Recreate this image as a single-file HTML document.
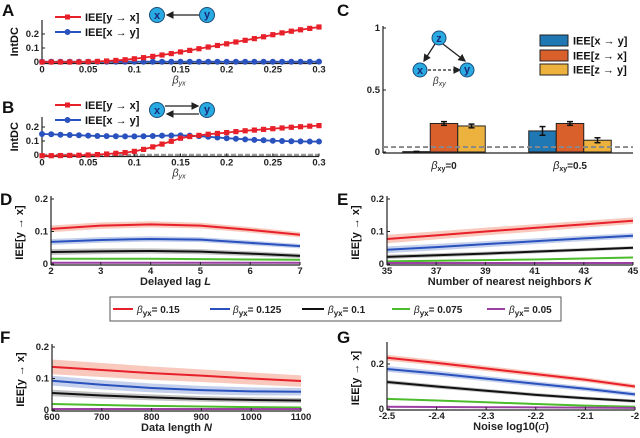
<!DOCTYPE html>
<html><head><meta charset="utf-8">
<style>
html,body{margin:0;padding:0;background:#fff;}
svg{display:block;font-family:"Liberation Sans",sans-serif;}
.t{font-size:9.5px;font-weight:bold;fill:#222;}
.lbl{font-size:10px;font-weight:bold;fill:#222;}
.pl{font-size:17px;font-weight:bold;fill:#111;}
</style></head>
<body>
<svg id="fig" width="640" height="438" viewBox="0 0 640 438" xmlns="http://www.w3.org/2000/svg">
<defs>
<marker id="ah" markerWidth="6" markerHeight="6" refX="5" refY="3" orient="auto"><path d="M0,0 L6,3 L0,6 z" fill="#222"/></marker>
</defs>
<text class="pl" x="2" y="16">A</text>
<text class="pl" x="2" y="113">B</text>
<text class="pl" x="337" y="16">C</text>
<text class="pl" x="0" y="205">D</text>
<text class="pl" x="337" y="205">E</text>
<text class="pl" x="0" y="343">F</text>
<text class="pl" x="337" y="343">G</text>

<g>
<line x1="55" y1="17" x2="81" y2="17" stroke="#e8202a" stroke-width="2"/><rect x="65" y="14.5" width="5" height="5" fill="#e8202a"/>
<text x="85" y="21" font-size="11" font-weight="bold" fill="#111">IEE[y → x]</text>
<line x1="55" y1="32" x2="81" y2="32" stroke="#2a52be" stroke-width="2"/><circle cx="67.5" cy="32" r="3" fill="#2a52be"/>
<text x="85" y="36" font-size="11" font-weight="bold" fill="#111">IEE[x → y]</text>
</g>
<g>
<line x1="199" y1="15" x2="167" y2="15" stroke="#222" stroke-width="1.3" marker-end="url(#ah)"/>
<circle cx="157" cy="15" r="7.5" fill="#29aae1" stroke="#1a4d7a"/><text x="157" y="19" font-size="11" font-weight="bold" fill="#1a2a7a" text-anchor="middle">x</text>
<circle cx="207" cy="15" r="7.5" fill="#29aae1" stroke="#1a4d7a"/><text x="207" y="18" font-size="11" font-weight="bold" fill="#1a2a7a" text-anchor="middle">y</text>
</g>
<g>
<line x1="55" y1="105" x2="81" y2="105" stroke="#e8202a" stroke-width="2"/><rect x="65" y="102.5" width="5" height="5" fill="#e8202a"/>
<text x="85" y="109" font-size="11" font-weight="bold" fill="#111">IEE[y → x]</text>
<line x1="55" y1="120" x2="81" y2="120" stroke="#2a52be" stroke-width="2"/><circle cx="67.5" cy="120" r="3" fill="#2a52be"/>
<text x="85" y="124" font-size="11" font-weight="bold" fill="#111">IEE[x → y]</text>
</g>
<g>
<line x1="165" y1="106" x2="198" y2="106" stroke="#222" stroke-width="1.3" marker-end="url(#ah)"/>
<line x1="199" y1="114" x2="167" y2="114" stroke="#222" stroke-width="1.3" marker-end="url(#ah)"/>
<circle cx="157" cy="110" r="7.5" fill="#29aae1" stroke="#1a4d7a"/><text x="157" y="114" font-size="11" font-weight="bold" fill="#1a2a7a" text-anchor="middle">x</text>
<circle cx="207" cy="110" r="7.5" fill="#29aae1" stroke="#1a4d7a"/><text x="207" y="113" font-size="11" font-weight="bold" fill="#1a2a7a" text-anchor="middle">y</text>
</g>
<g>
<line x1="435" y1="44" x2="424" y2="61" stroke="#222" stroke-width="1.3" marker-end="url(#ah)"/>
<line x1="443" y1="44" x2="465" y2="61" stroke="#222" stroke-width="1.3" marker-end="url(#ah)"/>
<line x1="428" y1="70" x2="460" y2="70" stroke="#222" stroke-width="1.3" stroke-dasharray="3,2" marker-end="url(#ah)"/>
<circle cx="439" cy="38" r="7" fill="#29aae1" stroke="#1a4d7a"/><text x="439" y="42" font-size="11" font-weight="bold" fill="#1a2a7a" text-anchor="middle">z</text>
<circle cx="420" cy="70" r="7" fill="#29aae1" stroke="#1a4d7a"/><text x="420" y="74" font-size="11" font-weight="bold" fill="#1a2a7a" text-anchor="middle">x</text>
<circle cx="467" cy="70" r="7" fill="#29aae1" stroke="#1a4d7a"/><text x="467" y="73" font-size="11" font-weight="bold" fill="#1a2a7a" text-anchor="middle">y</text>
<text x="433" y="84" font-size="10" font-style="italic" fill="#333">β<tspan font-size="7" dy="2">xy</tspan></text>
</g>
<g>
<rect x="540" y="35" width="28" height="11" fill="#1f77b4" stroke="#222"/><text x="573" y="44.5" font-size="11" font-weight="bold" fill="#111">IEE[x → y]</text>
<rect x="540" y="50" width="28" height="11" fill="#d95f2b" stroke="#222"/><text x="573" y="59.5" font-size="11" font-weight="bold" fill="#111">IEE[z → x]</text>
<rect x="540" y="64" width="28" height="11" fill="#edb13e" stroke="#222"/><text x="573" y="73.5" font-size="11" font-weight="bold" fill="#111">IEE[z → y]</text>
</g>
<g>
<rect x="110" y="297" width="451" height="24" fill="#fff" stroke="#555"/>
<line x1="113" y1="309" x2="133" y2="309" stroke="#e8202a" stroke-width="2"/><text x="137" y="313" class="lbl" font-size="11"><tspan font-style="italic" font-weight="normal">β</tspan><tspan font-size="8" dy="3">yx</tspan><tspan dy="-3">= 0.15</tspan></text>
<line x1="210" y1="309" x2="230" y2="309" stroke="#2a52be" stroke-width="2"/><text x="233" y="313" class="lbl" font-size="11"><tspan font-style="italic" font-weight="normal">β</tspan><tspan font-size="8" dy="3">yx</tspan><tspan dy="-3">= 0.125</tspan></text>
<line x1="302" y1="309" x2="324" y2="309" stroke="#111" stroke-width="2"/><text x="328" y="313" class="lbl" font-size="11"><tspan font-style="italic" font-weight="normal">β</tspan><tspan font-size="8" dy="3">yx</tspan><tspan dy="-3">= 0.1</tspan></text>
<line x1="392" y1="309" x2="410" y2="309" stroke="#4cbb2c" stroke-width="2"/><text x="414" y="313" class="lbl" font-size="11"><tspan font-style="italic" font-weight="normal">β</tspan><tspan font-size="8" dy="3">yx</tspan><tspan dy="-3">= 0.075</tspan></text>
<line x1="487" y1="309" x2="505" y2="309" stroke="#9b3fa3" stroke-width="2"/><text x="509" y="313" class="lbl" font-size="11"><tspan font-style="italic" font-weight="normal">β</tspan><tspan font-size="8" dy="3">yx</tspan><tspan dy="-3">= 0.05</tspan></text>
</g>
</svg>
<script>
const abX = [0,0.01,0.02,0.03,0.04,0.05,0.06,0.07,0.08,0.09,0.1,0.11,0.12,0.13,0.14,0.15,0.16,0.17,0.18,0.19,0.2,0.21,0.22,0.23,0.24,0.25,0.26,0.27,0.28,0.29,0.3];
const aRed = [0,0,0,0,0,0.002,0.004,0.007,0.011,0.016,0.023,0.031,0.04,0.05,0.06,0.072,0.083,0.095,0.107,0.118,0.13,0.143,0.155,0.167,0.18,0.195,0.208,0.22,0.23,0.24,0.25];
const aBlue = [0.002,0.002,0.002,0.002,0.002,0.002,0.002,0.002,0.002,0.002,0.002,0.002,0.002,0.002,0.002,0.002,0.002,0.002,0.002,0.002,0.002,0.002,0.002,0.002,0.002,0.002,0.002,0.002,0.002,0.002,0.003];
const bRed = [-0.005,-0.005,-0.004,-0.003,-0.002,0,0.003,0.007,0.012,0.017,0.026,0.04,0.058,0.078,0.098,0.12,0.132,0.14,0.148,0.154,0.16,0.167,0.173,0.178,0.183,0.188,0.193,0.198,0.202,0.206,0.21];
const bBlue = [0.15,0.148,0.145,0.143,0.141,0.138,0.136,0.135,0.134,0.133,0.133,0.134,0.136,0.138,0.139,0.14,0.138,0.135,0.13,0.125,0.12,0.116,0.112,0.108,0.105,0.102,0.1,0.098,0.097,0.096,0.096];
const abTicks = ["0","0.05","0.1","0.15","0.2","0.25","0.3"];

const cGroups = ["=0","=0.5"];
const cXY = [0.003,0.17];
const cZX = [0.23,0.23];
const cZY = [0.21,0.095];
const cErrXY = [0.002,0.035];
const cErrZX = [0.015,0.015];
const cErrZY = [0.015,0.02];
const cThreshold = 0.04;

const seriesColors = ["#e8202a","#2a52be","#111111","#4cbb2c","#9b3fa3"];
const bandColors = ["#f4a58f","#9fb0e0","#999999","#b5e3a8","#d2a8d8"];

const dX = [2,3,4,5,6,7];
const dRed = [0.108,0.118,0.122,0.118,0.105,0.09];
const dBlue = [0.068,0.074,0.077,0.075,0.065,0.055];
const dBlack = [0.037,0.039,0.04,0.038,0.032,0.025];
const dGreen = [0.016,0.016,0.016,0.015,0.014,0.013];
const dPurple = [0.004,0.004,0.004,0.004,0.004,0.004];
const dErr = [0.008,0.007,0.007,0.002,0.001];

const eX = [35,37,39,41,43,45];
const eRed = [0.077,0.088,0.1,0.111,0.122,0.133];
const eBlue = [0.044,0.052,0.061,0.07,0.079,0.087];
const eBlack = [0.022,0.027,0.032,0.038,0.044,0.05];
const eGreen = [0.008,0.01,0.012,0.014,0.017,0.02];
const ePurple = [0.003,0.003,0.003,0.003,0.003,0.003];
const eErr = [0.01,0.008,0.005,0.002,0.001];

const fX = [600,700,800,900,1000,1100];
const fRed = [0.137,0.127,0.117,0.109,0.1,0.092];
const fBlue = [0.093,0.08,0.07,0.063,0.059,0.058];
const fBlack = [0.054,0.046,0.04,0.035,0.032,0.03];
const fGreen = [0.019,0.016,0.013,0.011,0.009,0.008];
const fPurple = [0.003,0.003,0.003,0.003,0.003,0.003];
const fErr = [0.018,0.012,0.008,0.002,0.001];

const gX = [-2.5,-2.4,-2.3,-2.2,-2.1,-2];
const gRed = [0.228,0.205,0.18,0.155,0.13,0.1];
const gBlue = [0.178,0.158,0.135,0.112,0.09,0.065];
const gBlack = [0.12,0.1,0.081,0.063,0.048,0.035];
const gGreen = [0.045,0.038,0.03,0.022,0.015,0.01];
const gPurple = [0.01,0.009,0.008,0.007,0.006,0.005];
const gErr = [0.01,0.01,0.007,0.002,0.001];

const svg = document.getElementById('fig');
const NS = 'http://www.w3.org/2000/svg';
function mk(tag, attrs, parent){
  const e = document.createElementNS(NS, tag);
  for (const k in attrs) e.setAttribute(k, attrs[k]);
  (parent||svg).appendChild(e);
  return e;
}
function scale(d0,d1,p0,p1){ return v => p0 + (v-d0)/(d1-d0)*(p1-p0); }
function txt(x,y,s,cls,anchor,parent){
  const t = mk('text',{x:x,y:y,class:cls,'text-anchor':anchor||'middle'},parent);
  t.textContent = s; return t;
}
function axes(g, xs, ys, x0, x1, y0, ytop, ybot, xt, xtl, yt, ytl){
  const ax = mk('g',{},g);
  
  
  mk('line',{x1:x0,y1:ytop,x2:x0,y2:ybot,stroke:'#222','stroke-width':1.2},ax);
  mk('line',{x1:x0,y1:ybot,x2:x1,y2:ybot,stroke:'#222','stroke-width':1.2},ax);
  xt.forEach((v,i)=>{
    const X = xs(v);
    mk('line',{x1:X,y1:ybot,x2:X,y2:ybot-3,stroke:'#222'},ax);
    const t = txt(X, ybot+9, xtl[i], 't', 'middle', ax);
    
    
  });
  yt.forEach((v,i)=>{
    const Y = ys(v);
    mk('line',{x1:x0,y1:Y,x2:x0+3,y2:Y,stroke:'#222'},ax);
    const t = txt(x0-3, Y+3, ytl[i], 't', 'end', ax);
    
    
  });
}
function ylabel(g, x, y, s, size){
  const t = mk('text',{x:0,y:0,transform:`translate(${x},${y}) rotate(-90)`,'text-anchor':'middle','font-size':size||11,'font-weight':'bold',fill:'#111'},g);
  t.textContent = s;
  
  
}
function xlabelBeta(g, x, y, sub){
  const t = mk('text',{x:x,y:y,'text-anchor':'middle','font-size':11,'font-style':'italic',fill:'#333'},g);
  t.innerHTML = 'β<tspan font-size="7" dy="2">'+sub+'</tspan>';
  
  
}
function xlabel(g,x,y,html){
  const t = mk('text',{x:x,y:y,'text-anchor':'middle','font-size':11,'font-weight':'bold',fill:'#222'},g);
  t.innerHTML = html;
  
  
}

function panelAB(name, red, blue, y0px, y2px, ytop){
  const g = mk('g',{});
  
  
  const xs = scale(0,0.3,42,319);
  const ys = scale(0,0.2,y0px,y2px);
  const ybot = y0px+1.5;
  mk('line',{x1:xs(0),y1:ys(0),x2:xs(0.3),y2:ys(0),stroke:'#999','stroke-width':2.5,'stroke-dasharray':'5,2'},g);
  axes(g,xs,ys,42,319,0,ytop,ybot,[0,0.05,0.1,0.15,0.2,0.25,0.3],abTicks,[0,0.1,0.2],["0","0.1","0.2"]);
  ylabel(g,18,(ytop+ybot)/2,'IntDC',11);
  xlabelBeta(g,179,ybot+20,'yx');
  const mkLine = (arr,col,mark,nm)=>{
    const pts = abX.map((x,i)=>xs(x)+','+ys(arr[i])).join(' ');
    const pl = mk('polyline',{points:pts,fill:'none',stroke:col,'stroke-width':1.8},g);
    
    
    abX.forEach((x,i)=>{
      let m;
      if(mark==='sq') m = mk('rect',{x:xs(x)-2.6,y:ys(arr[i])-2.6,width:5.2,height:5.2,fill:col},g);
      else m = mk('circle',{cx:xs(x),cy:ys(arr[i]),r:3,fill:col},g);
      
      
    });
  };
  mkLine(blue,'#2a52be','ci','iee-x-to-y');
  mkLine(red,'#e8202a','sq','iee-y-to-x');
}
panelAB('panel-a-chart', aRed, aBlue, 62, 34, 20);
panelAB('panel-b-chart', bRed, bBlue, 155, 127, 117);

(function(){
  const g = mk('g',{});
  
  
  const ys = scale(0,1,152,28);
  const ybot = 153;
  axes(g, v=>v, ys, 383, 633, 0, 26, ybot, [], [], [0,0.5,1], ["0","0.5","1"]);
  const centers = [444,570];
  const bw = 27.5;
  const series = [[cXY,cErrXY,'#1f77b4','iee-x-to-y'],[cZX,cErrZX,'#d95f2b','iee-z-to-x'],[cZY,cErrZY,'#edb13e','iee-z-to-y']];
  centers.forEach((c,gi)=>{
    series.forEach((s,si)=>{
      const x = c + (si-1.5)*bw;
      const v = s[0][gi];
      const r = mk('rect',{x:x,y:ys(v),width:bw,height:ys(0)-ys(v),fill:s[2],stroke:'#222','stroke-width':1},g);
      
      
      const e = s[1][gi], cx = x+bw/2;
      mk('line',{x1:cx,y1:ys(v+e),x2:cx,y2:ys(v-e),stroke:'#111','stroke-width':1.5},g);
      mk('line',{x1:cx-3,y1:ys(v+e),x2:cx+3,y2:ys(v+e),stroke:'#111','stroke-width':1.5},g);
      mk('line',{x1:cx-3,y1:ys(v-e),x2:cx+3,y2:ys(v-e),stroke:'#111','stroke-width':1.5},g);
    });
    const t = mk('text',{x:c,y:169,'text-anchor':'middle','font-size':10,fill:'#222'},g);
    t.innerHTML = '<tspan font-style="italic" font-size="11">β</tspan><tspan font-size="7" dy="2" font-weight="bold">xy</tspan><tspan dy="-2" font-weight="bold">'+cGroups[gi]+'</tspan>';
    
    
  });
  const th = mk('line',{x1:383,y1:ys(cThreshold),x2:633,y2:ys(cThreshold),stroke:'#888','stroke-width':1.8,'stroke-dasharray':'5,3'},g);
  
  
})();

function bandPanel(name, xsArr, seriesArr, errArr, xr, xpx, yr, ypx, ytop, xt, xtl, yt, ytl, xlab){
  const g = mk('g',{});
  
  
  const xs = scale(xr[0],xr[1],xpx[0],xpx[1]);
  const ys = scale(yr[0],yr[1],ypx[0],ypx[1]);
  const ybot = ys(0)+1;
  const n = xsArr.length;
  seriesArr.forEach((arr,si)=>{
    const e = errArr[si];
    if(e>0.0015){
      const up = xsArr.map((x,i)=>xs(x)+','+ys(arr[i]+e*(1+0.3*(n-1-i)/(n-1)))).join(' ');
      const dn = xsArr.slice().reverse().map((x,j)=>{const i=n-1-j;return xs(x)+','+ys(arr[i]-e*(1+0.3*(n-1-i)/(n-1)));}).join(' ');
      const b = mk('polygon',{points:up+' '+dn,fill:bandColors[si],opacity:0.6},g);
      
      
    }
  });
  seriesArr.forEach((arr,si)=>{
    const pts = xsArr.map((x,i)=>xs(x)+','+ys(arr[i])).join(' ');
    const l = mk('polyline',{points:pts,fill:'none',stroke:seriesColors[si],'stroke-width':2},g);
    
    
  });
  axes(g,xs,ys,xpx[0],xpx[1],0,ytop,ybot,xt,xtl,yt,ytl);
  ylabel(g,xpx[0]-28,(ytop+ybot)/2+2,'IEE[y → x]',11);
  xlabel(g,(xpx[0]+xpx[1])/2,ybot+20,xlab);
}
bandPanel('panel-d-chart', dX, [dRed,dBlue,dBlack,dGreen,dPurple], dErr, [2,7],[51,300],[0,0.2],[264,199],196,
  [2,3,4,5,6,7],["2","3","4","5","6","7"],[0,0.1,0.2],["0","0.1","0.2"],'Delayed lag <tspan font-style="italic">L</tspan>');
bandPanel('panel-e-chart', eX, [eRed,eBlue,eBlack,eGreen,ePurple], eErr, [35,45],[387,633],[0,0.2],[264,199],196,
  [35,37,39,41,43,45],["35","37","39","41","43","45"],[0,0.1,0.2],["0","0.1","0.2"],'Number of nearest neighbors <tspan font-style="italic">K</tspan>');
bandPanel('panel-f-chart', fX, [fRed,fBlue,fBlack,fGreen,fPurple], fErr, [600,1100],[52,301],[0,0.2],[410,347],344,
  [600,700,800,900,1000,1100],["600","700","800","900","1000","1100"],[0,0.1,0.2],["0","0.1","0.2"],'Data length <tspan font-style="italic">N</tspan>');
bandPanel('panel-g-chart', gX, [gRed,gBlue,gBlack,gGreen,gPurple], gErr, [-2.5,-2],[387,635],[0,0.2],[409,364],342,
  [-2.5,-2.4,-2.3,-2.2,-2.1,-2],["-2.5","-2.4","-2.3","-2.2","-2.1","-2"],[0,0.2],["0","0.2"],'Noise  log10(<tspan font-style="italic" font-weight="normal">σ</tspan>)');
</script>
</body></html>
